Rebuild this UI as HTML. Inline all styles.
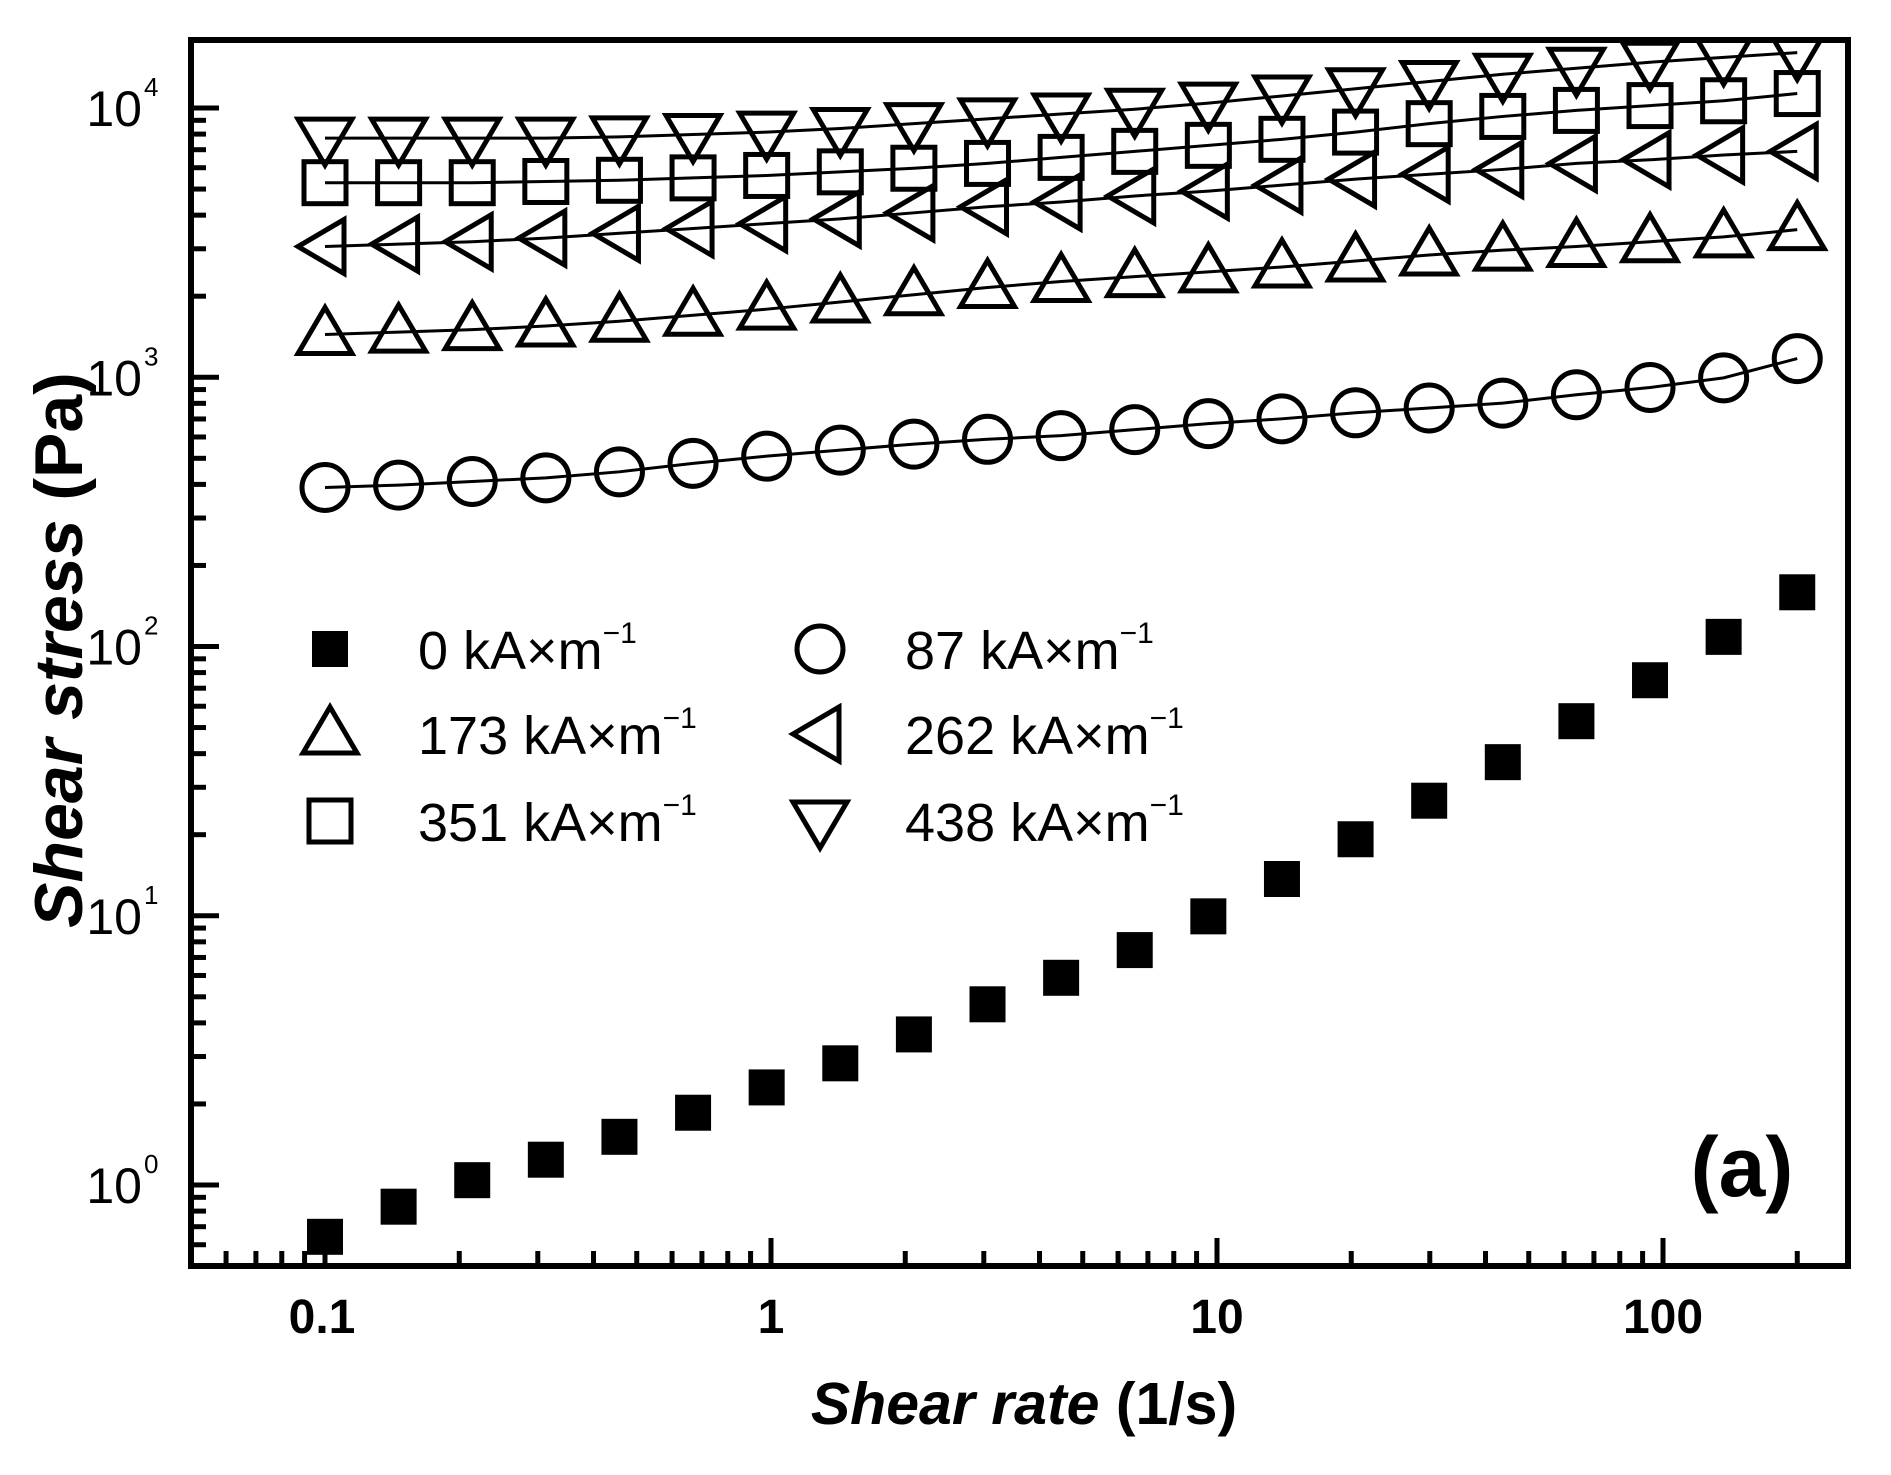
<!DOCTYPE html>
<html><head><meta charset="utf-8"><style>
html,body{margin:0;padding:0;background:#fff}
svg{display:block}
text{font-family:"Liberation Sans",Arial,sans-serif;fill:#000}
</style></head><body>
<svg id="s" width="1891" height="1475" xmlns="http://www.w3.org/2000/svg">
<rect x="0" y="0" width="1891" height="1475" fill="#fff"/>
<g id="data"></g>
<rect x="191" y="40" width="1657" height="1226" fill="none" stroke="#000" stroke-width="6"/>
<g id="ticks" stroke="#000" stroke-width="5"></g>
<g font-size="50">
<text x="322" y="1333" text-anchor="middle" font-weight="bold" font-size="48">0.1</text>
<text x="771" y="1333" text-anchor="middle" font-weight="bold" font-size="48">1</text>
<text x="1217" y="1333" text-anchor="middle" font-weight="bold" font-size="48">10</text>
<text x="1663" y="1333" text-anchor="middle" font-weight="bold" font-size="48">100</text>
</g>
<g font-size="50" id="ylab"></g>
<text x="1024" y="1424" text-anchor="middle" font-size="59" font-weight="bold"><tspan font-style="italic">Shear rate</tspan> (1/s)</text>
<text transform="translate(82,650) rotate(-90)" text-anchor="middle" font-size="68" font-weight="bold"><tspan font-style="italic">Shear stress</tspan> (Pa)</text>
<text x="1742" y="1196" text-anchor="middle" font-size="84" font-weight="bold">(a)</text>
<g id="legend" font-size="54"></g>
</svg>
<script>
const NS="http://www.w3.org/2000/svg";
function el(p,t,a,txt){const e=document.createElementNS(NS,t);for(const k in a)e.setAttribute(k,a[k]);if(txt!==undefined)e.textContent=txt;p.appendChild(e);return e;}
const X=v=>771+446*Math.log10(v);
const Y=v=>1185-269.25*Math.log10(v);
const tk=document.getElementById('ticks');
for(let d=-2;d<=2;d++)for(let m=1;m<10;m++){const v=m*Math.pow(10,d);const x=X(v);if(x<194||x>1845)continue;
 el(tk,'line',{x1:x,y1:1266,x2:x,y2:1266-(m==1?28:15)});}
for(let d=-1;d<=4;d++)for(let m=1;m<10;m++){const v=m*Math.pow(10,d);const y=Y(v);if(y<43||y>1263)continue;
 el(tk,'line',{x1:191,y1:y,x2:191+(m==1?28:15),y2:y});}
const yl=document.getElementById('ylab');
for(let d=0;d<=4;d++){const y=Y(Math.pow(10,d));
 el(yl,'text',{x:142,y:y+18,'text-anchor':'end','font-size':50},'10');
 el(yl,'text',{x:144,y:y-12,'font-size':26},String(d));}
const disp2y=d=>108+(d-88)*1.2047;
const xs=[];for(let i=0;i<21;i++)xs.push(X(Math.pow(10,-1+i*3.301/20)));
const S={
 fsq:[1025,1000,978,961,942,922,901,881,857,832,810,787,759,728,695,663,631,597,563,527,490],
 circ:[403,401,398,395,390,383,377,372,367,363,360,355,350,346,341,337,333,326,320,312,296],
 tri:[276,274,272,269,265,260,255,249,243,237,232,228,224,220,215,210,206,203,199,195,189],
 ltri:[203,201,199,196,192,188,184,180,175,170,166,161,157,152,147,143,139,134,131,127,124],
 osq:[150,150,150,149,148,146,144,141,138,134,129,124,119,114,108,101,95,90,86,82,76],
 dtri:[113,113,113,113,112,110,108,105,101,97,93,89,84,78,72,66,60,55,50,46,42]
};
const g=document.getElementById('data');
function marker(p,type,x,y){const r=27;const st={fill:'none',stroke:'#000','stroke-width':5};
 if(type=='fsq')el(p,'rect',{x:x-18,y:y-18,width:36,height:36,fill:'#000'});
 else if(type=='circ')el(p,'circle',Object.assign({cx:x,cy:y,r:23},st));
 else if(type=='osq')el(p,'rect',Object.assign({x:x-21,y:y-21,width:42,height:42},st));
 else if(type=='tri')el(p,'polygon',Object.assign({points:`${x},${y-r} ${x-r},${y+19} ${x+r},${y+19}`},st));
 else if(type=='dtri')el(p,'polygon',Object.assign({points:`${x},${y+r} ${x-r},${y-19} ${x+r},${y-19}`},st));
 else if(type=='ltri')el(p,'polygon',Object.assign({points:`${x-r},${y} ${x+19},${y-r} ${x+19},${y+r}`},st));
}
const clip=el(g,'g',{});
for(const k in S){const ys=S[k].map(disp2y);
 if(k!='fsq'){el(clip,'polyline',{points:xs.map((x,i)=>x+','+ys[i]).join(' '),fill:'none',stroke:'#000','stroke-width':3});}
 xs.forEach((x,i)=>marker(clip,k,x,ys[i]));}
el(g,'rect',{x:150,y:0,width:1741,height:37,fill:'#fff'});
const lg=document.getElementById('legend');
const rows=[649,734,821];
const L=[['fsq','0',0,0],['circ','87',1,0],['tri','173',0,1],['ltri','262',1,1],['osq','351',0,2],['dtri','438',1,2]];
L.forEach(([t,lab,c,r])=>{const mx=c?820:330, tx=c?905:418, y=rows[r];
 marker(lg,t,mx,y);
 const te=el(lg,'text',{x:tx,y:y+20,'font-size':54});
 te.appendChild(document.createTextNode(lab+' kA×m'));
 el(te,'tspan',{dy:-26,'font-size':30},'−1');
});
</script>
</body></html>
